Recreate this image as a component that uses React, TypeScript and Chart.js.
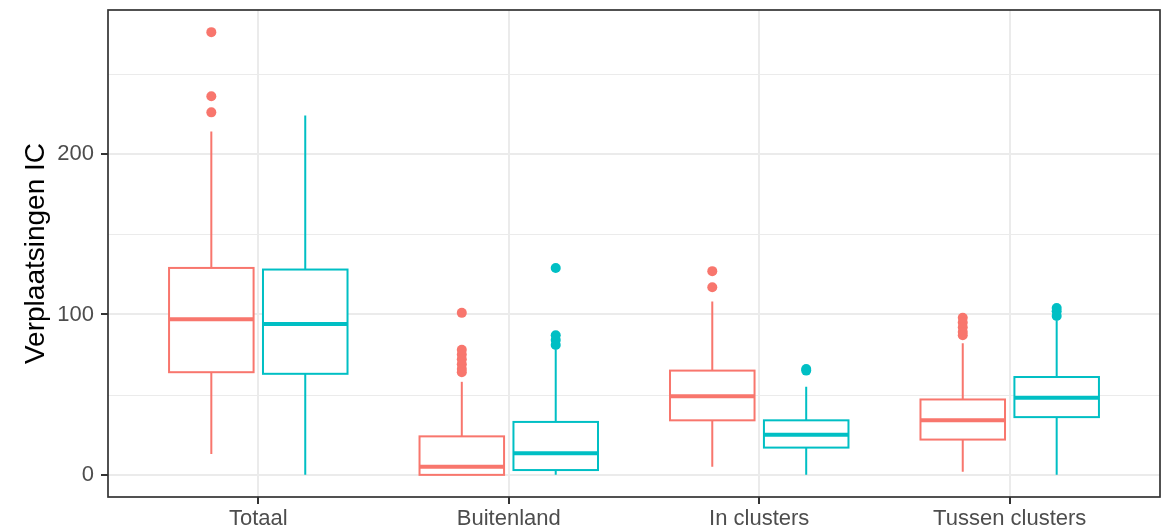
import React, { useEffect, useRef } from 'react';
import { Chart, registerables } from 'chart.js';

Chart.register(...registerables);

// ---------- data ----------
const categories = ['Totaal', 'Buitenland', 'In clusters', 'Tussen clusters'];
const seriesColors = ['#F8766D', '#00BFC4'];

// first (red) series
const lowA = [13, 0, 5, 2];
const q1A = [64, 0, 34, 22];
const medianA = [97, 5, 49, 34];
const q3A = [129, 24, 65, 47];
const highA = [214, 58, 108, 82];
const outliersA = [
  [276, 236, 226],
  [101, 78, 75, 72, 69, 66, 64],
  [127, 117],
  [98, 95, 92, 89, 87],
];

// second (teal) series
const lowB = [0, 0, 0, 0];
const q1B = [63, 3, 17, 36];
const medianB = [94, 13.5, 25, 48];
const q3B = [128, 33, 34, 61];
const highB = [224, 78, 55, 96];
const outliersB = [
  [],
  [129, 87, 84, 81],
  [66, 65],
  [104, 102, 99],
];

const yMajorTicks = [0, 100, 200];
const yMinorTicks = [50, 150, 250];
const yTitle = 'Verplaatsingen IC';

// ---------- layout constants (not data) ----------
const dodge = 0.1875;
const boxWidth = 0.3375;
const FONT = "'Liberation Sans', Arial, sans-serif";

const groups = [
  { low: lowA, q1: q1A, med: medianA, q3: q3A, high: highA, out: outliersA, offset: -dodge, color: seriesColors[0] },
  { low: lowB, q1: q1B, med: medianB, q3: q3B, high: highB, out: outliersB, offset: dodge, color: seriesColors[1] },
];

const allValues = groups.flatMap((g) => [...g.low, ...g.high, ...g.out.flat()]);
const dataMin = Math.min(...allValues);
const dataMax = Math.max(...allValues);
const expand = (dataMax - dataMin) * 0.05;

const boxPlugin = {
  id: 'ggBoxes',
  beforeDatasetsDraw(chart: any) {
    const { ctx, chartArea, scales } = chart;
    const x = scales.x;
    const y = scales.y;
    ctx.save();
    // minor grid lines
    ctx.strokeStyle = '#EBEBEB';
    ctx.lineWidth = 1;
    yMinorTicks.forEach((v) => {
      const py = Math.round(y.getPixelForValue(v)) + 0.5;
      ctx.beginPath();
      ctx.moveTo(chartArea.left, py);
      ctx.lineTo(chartArea.right, py);
      ctx.stroke();
    });
    groups.forEach((g) => {
      categories.forEach((_, ci) => {
        const cx = ci + 1 + g.offset;
        const px = x.getPixelForValue(cx);
        const left = x.getPixelForValue(cx - boxWidth / 2);
        const right = x.getPixelForValue(cx + boxWidth / 2);
        const yLow = y.getPixelForValue(g.low[ci]);
        const yQ1 = y.getPixelForValue(g.q1[ci]);
        const yMed = y.getPixelForValue(g.med[ci]);
        const yQ3 = y.getPixelForValue(g.q3[ci]);
        const yHigh = y.getPixelForValue(g.high[ci]);
        ctx.strokeStyle = g.color;
        ctx.lineWidth = 2;
        ctx.beginPath();
        ctx.moveTo(px, yHigh);
        ctx.lineTo(px, yQ3);
        ctx.moveTo(px, yQ1);
        ctx.lineTo(px, yLow);
        ctx.stroke();
        ctx.fillStyle = '#FFFFFF';
        ctx.fillRect(left, yQ3, right - left, yQ1 - yQ3);
        ctx.strokeRect(left, yQ3, right - left, yQ1 - yQ3);
        ctx.lineWidth = 4;
        ctx.beginPath();
        ctx.moveTo(left, yMed);
        ctx.lineTo(right, yMed);
        ctx.stroke();
      });
    });
    ctx.restore();
  },
  afterDraw(chart: any) {
    const { ctx, chartArea } = chart;
    ctx.save();
    ctx.strokeStyle = '#333333';
    ctx.lineWidth = 1.7;
    ctx.strokeRect(chartArea.left, chartArea.top, chartArea.right - chartArea.left, chartArea.bottom - chartArea.top);
    ctx.restore();
  },
};

export default function App() {
  const canvasRef = useRef<HTMLCanvasElement | null>(null);

  useEffect(() => {
    if (!canvasRef.current) return;
    Chart.defaults.font.family = FONT;
    const datasets = groups.map((g, gi) => ({
      label: 'series' + gi,
      data: g.out.flatMap((vals, ci) => vals.map((v) => ({ x: ci + 1 + g.offset, y: v }))),
      pointRadius: 5,
      pointBackgroundColor: g.color,
      pointBorderWidth: 0,
      pointBorderColor: g.color,
      showLine: false,
    }));
    const chart = new Chart(canvasRef.current, {
      type: 'scatter',
      data: { datasets },
      options: {
        responsive: false,
        maintainAspectRatio: false,
        animation: false,
        layout: { padding: { left: 0, top: 10, right: 10, bottom: 0 } },
        plugins: { legend: { display: false }, tooltip: { enabled: false } },
        scales: {
          x: {
            type: 'linear',
            min: 0.4,
            max: 4.6,
            afterBuildTicks: (s: any) => {
              s.ticks = categories.map((_, i) => ({ value: i + 1 }));
            },
            afterFit: (s: any) => {
              s.height = 34;
              s.paddingLeft = 0;
              s.paddingRight = 0;
            },
            ticks: {
              autoSkip: false,
              maxRotation: 0,
              minRotation: 0,
              padding: 2,
              color: '#4D4D4D',
              font: { size: 22, family: FONT },
              callback: (v: any) => categories[Math.round(Number(v)) - 1] ?? '',
            },
            grid: { color: '#EBEBEB', lineWidth: 2, tickColor: '#333333', tickLength: 7, tickWidth: 2 },
            border: { display: false },
          },
          y: {
            type: 'linear',
            min: dataMin - expand,
            max: dataMax + expand,
            afterBuildTicks: (s: any) => {
              s.ticks = yMajorTicks.map((v) => ({ value: v }));
            },
            afterFit: (s: any) => {
              s.width = 108;
              s.paddingTop = 0;
              s.paddingBottom = 0;
            },
            ticks: {
              padding: 7,
              color: '#4D4D4D',
              font: { size: 22, family: FONT },
              callback: (v: any) => String(v),
            },
            grid: { color: '#EBEBEB', lineWidth: 2, tickColor: '#333333', tickLength: 7, tickWidth: 2 },
            border: { display: false },
            title: {
              display: true,
              text: yTitle,
              color: '#000000',
              font: { size: 28, family: FONT },
              padding: { top: 19, bottom: 0 },
            },
          },
        },
      },
      plugins: [boxPlugin],
    });
    return () => chart.destroy();
  }, []);

  return (
    <div style={{ position: 'absolute', left: 0, top: 0, width: 1170, height: 531, background: '#fff' }}>
      <canvas ref={canvasRef} width={1170} height={531} style={{ display: 'block', width: 1170, height: 531 }} />
    </div>
  );
}
